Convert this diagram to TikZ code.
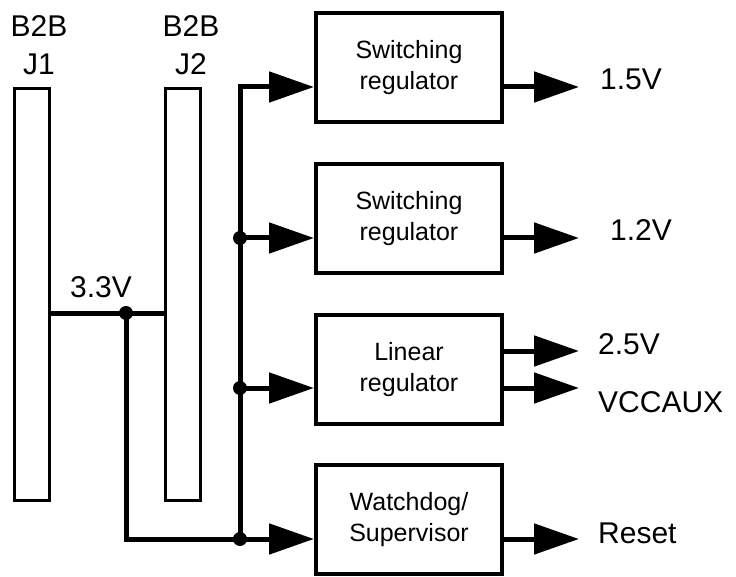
\documentclass[tikz,border=0pt]{standalone}
\usepackage{fontspec}
\setmainfont{Liberation Sans}
\usetikzlibrary{arrows.meta, positioning, calc}

\begin{document}
\begin{tikzpicture}[x=1pt, y=-1pt,
    block/.style={draw, line width=4pt, minimum width=186pt, minimum height=109pt, inner sep=0pt, align=center, font=\fontsize{25}{31}\selectfont},
    conrect/.style={draw, line width=3.3pt, minimum width=35pt, minimum height=412pt, inner sep=0pt},
    wire/.style={line width=5pt},
    conn/.style={wire, -{Triangle[length=45pt, width=30pt]}},
    lbl/.style={inner sep=0pt, align=center, font=\fontsize{30}{38}\selectfont},
    dot/.style={radius=7pt}]
    \useasboundingbox (0,0) rectangle (736,577);

    % board to board connectors
    \node[conrect] (j1) at (32, 294.5) {};
    \node[conrect] (j2) at (183, 294.5) {};
    \node[lbl, anchor=north] (j1lbl) at (39, 15) {B2B\\J1};
    \node[lbl, anchor=north] (j2lbl) at (191, 15) {B2B\\J2};

    % regulator blocks
    \node[block] (sw1) at (409, 67.5) {Switching\\regulator};
    \node[block] (sw2) at (409, 218.5) {Switching\\regulator};
    \node[block] (lin) at (409, 369.5) {Linear\\regulator};
    \node[block] (wdog) at (409, 519.5) {Watchdog/\\Supervisor};

    % supply net
    \coordinate (v33) at (126, 313);
    \coordinate (top) at (240, 87);
    \coordinate (b2) at (240, 238);
    \coordinate (b3) at (240, 388);
    \coordinate (b4) at (240, 539);
    \node[lbl, anchor=base west] (v33lbl) at (70, 298) {3.3V};

    \draw[wire] (j1.east |- v33) -- (j2.west |- v33);
    \draw[wire] (v33) -- (v33 |- b4) -- (b4);
    \draw[conn] (b4) -- (top) -- (sw1.west |- top);
    \fill (v33) circle[dot];
    \fill (b2) circle[dot];
    \fill (b3) circle[dot];
    \fill (b4) circle[dot];

    \draw[conn] (b2) -- (sw2.west |- b2);
    \draw[conn] (b3) -- (lin.west |- b3);
    \draw[conn] (b4) -- (wdog.west |- b4);

    % outputs
    \coordinate (o1) at (579, 87);
    \coordinate (o2) at (579, 238);
    \coordinate (o3) at (579, 351);
    \coordinate (o4) at (579, 388);
    \coordinate (o5) at (579, 539);
    \draw[conn] (sw1.east |- o1) -- (o1);
    \draw[conn] (sw2.east |- o2) -- (o2);
    \draw[conn] (lin.east |- o3) -- (o3);
    \draw[conn] (lin.east |- o4) -- (o4);
    \draw[conn] (wdog.east |- o5) -- (o5);

    \node[lbl, anchor=base west] (out1) at (600, 90) {1.5V};
    \node[lbl, anchor=base west] (out2) at (610, 241) {1.2V};
    \node[lbl, anchor=base west] (out3) at (598, 354) {2.5V};
    \node[lbl, anchor=base west] (out4) at (598, 412) {VCCAUX};
    \node[lbl, anchor=base west] (out5) at (598, 543) {Reset};
\end{tikzpicture}
\end{document}
